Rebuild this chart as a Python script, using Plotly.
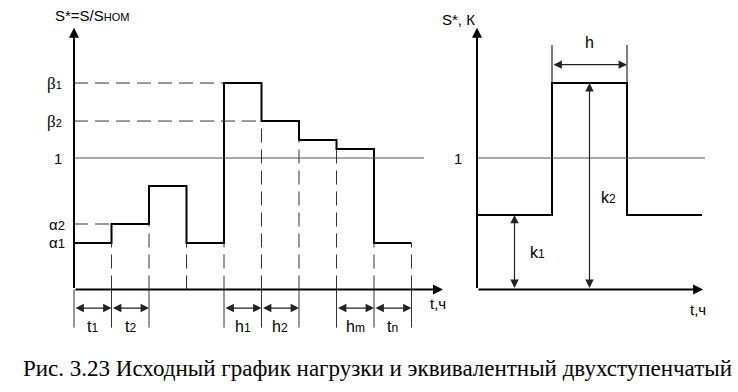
import plotly.graph_objects as go
import numpy as np

# ---------------- data ----------------
# left chart: original load graph (S* = S/Sном), one value per interval
left_values = [0.354, 0.498, 0.787, 0.354, 1.570, 1.281, 1.137, 1.068, 0.354]
left_durations = [1, 1, 1, 1, 1, 1, 1, 1, 1]
left_interval_labels = ["t1", "t2", "", "", "h1", "h2", "", "hm", "tn"]
# level labels on the y axis: (label, index of the step that has that level)
level_labels = ["α1", "α2", "β1", "β2"]
level_steps = [0, 1, 4, 5]

# right chart: equivalent two-step graph
right_values = [0.567, 1.570, 0.567]
right_durations = [2, 2, 2]
right_labels = ["k1", "k2"]

caption = "Рис. 3.23 Исходный график нагрузки и эквивалентный двухступенчатый"

# ---------------- helpers ----------------
W, H = 738, 392
PX_X = 37.5          # pixels per time unit
PX_Y = 131.5         # pixels per S* unit
Y0 = 289.5           # pixel row of S* = 0
LX0, RX0 = 74, 477   # pixel columns of the two y axes

xr_left = [-LX0 / PX_X, (W - LX0) / PX_X]
xr_right = [-RX0 / PX_X, (W - RX0) / PX_X]
yr = [(Y0 - H) / PX_Y, Y0 / PX_Y]

FONT = "Liberation Sans, Arial, sans-serif"
shapes, annos = [], []

def lab(t, small=12):
    if len(t) == 2:
        return f"{t[0]}<span style='font-size:{small}px'>{t[1]}</span>"
    return t

def line(xref, x0, y0, x1, y1, color="black", width=1, dash="solid"):
    shapes.append(dict(type="line", xref=xref, yref="y", x0=x0, y0=y0, x1=x1, y1=y1,
                       line=dict(color=color, width=width, dash=dash), layer="above"))

def arrow(xref, x0, y0, x1, y1, both=False, width=1.2, size=1.0, color="black"):
    annos.append(dict(xref=xref, yref="y", axref=xref, ayref="y", x=x1, y=y1, ax=x0, ay=y0,
                      text="", showarrow=True, arrowhead=2, arrowsize=size, arrowwidth=width,
                      arrowcolor=color, arrowside="end+start" if both else "end", standoff=0,
                      startstandoff=0))

def text(xref, x, y, t, size=15, family=FONT, xanchor="center"):
    annos.append(dict(xref=xref, yref="y", x=x, y=y, text=t, showarrow=False,
                      font=dict(size=size, family=family, color="black"), xanchor=xanchor,
                      yanchor="middle"))

DASH = "14px,7px"
EXT = -0.29       # bottom of extension lines below the time axis
DIM = -0.141      # dimension-arrow row
LBL = -0.285      # interval label row

fig = go.Figure()

# ---------------- left chart ----------------
edges = np.concatenate([[0], np.cumsum(left_durations)])
n = len(left_values)
tmax = edges[-1]

# reference line at 1
line("x", 0, 1, tmax + 0.33, 1, color="#555", width=1)
# dashed level lines
for name, idx in zip(level_labels, level_steps):
    v = left_values[idx]
    if edges[idx] > 0:
        line("x", 0, v, edges[idx], v, color="#333", width=1, dash=DASH)
    if name[0] == "β":
        t = (f"<span style='font-family:Liberation Serif;font-size:17px'>β</span>"
             f"<span style='font-size:11px'>{name[1]}</span>")
        text("x", -0.52, v, t)
    else:
        text("x", -0.45, v, lab(name, 13))
text("x", -0.43, 1, "1", size=15)

# dashed verticals from axis up to the lower neighbouring step
for i in range(1, n + 1):
    lo = left_values[i - 1] if i == n else min(left_values[i - 1], left_values[i])
    line("x", edges[i], 0, edges[i], lo, color="#333", width=1, dash=DASH)

# step line
fig.add_trace(go.Scatter(x=list(edges), y=left_values + [left_values[-1]], mode="lines",
                         line=dict(color="black", width=2, shape="hv"), xaxis="x", yaxis="y",
                         hoverinfo="skip", showlegend=False))

# extension lines, dimension arrows and labels under the time axis
ext_edges = set()
for i, name in enumerate(left_interval_labels):
    if name:
        ext_edges.update([i, i + 1])
        arrow("x", edges[i], DIM, edges[i + 1], DIM, both=True, width=1.2, size=1.4, color="#222")
        text("x", (edges[i] + edges[i + 1]) / 2, LBL, lab(name, 12), size=16)
for e in sorted(ext_edges):
    line("x", edges[e], 0, edges[e], EXT, color="#333", width=1)

# axes
arrow("x", 0, 0, 0, 1.99, width=2, size=1.0)
arrow("x", 0, 0, tmax + 0.84, 0, width=2, size=1.0)
text("x", 0.49, 2.08, "S*=S/S<span style='font-size:11px'>НОМ</span>", size=15)
text("x", 9.7, -0.11, "t,ч", size=15)

# ---------------- right chart ----------------
redges = np.concatenate([[0], np.cumsum(right_durations)])
rmax = redges[-1]
line("x2", 0, 1, rmax + 0.08, 1, color="#555", width=1)
text("x2", -0.5, 1, "1", size=15)

fig.add_trace(go.Scatter(x=list(redges), y=right_values + [right_values[-1]], mode="lines",
                         line=dict(color="black", width=2, shape="hv"), xaxis="x2", yaxis="y",
                         hoverinfo="skip", showlegend=False))

# k1, k2 dimension arrows
k1x = (redges[0] + redges[1]) / 2
k2x = (redges[1] + redges[2]) / 2
arrow("x2", k1x, 0, k1x, right_values[0], both=True, width=1.2, size=1.4, color="#222")
arrow("x2", k2x, 0, k2x, right_values[1], both=True, width=1.2, size=1.4, color="#222")
text("x2", k1x + 0.6, 0.285, lab(right_labels[0], 12), size=16)
text("x2", k2x + 0.5, 0.696, lab(right_labels[1], 12), size=16)

# h dimension
hy = right_values[1] + 0.14
line("x2", redges[1], right_values[1], redges[1], right_values[1] + 0.29, width=1)
line("x2", redges[2], right_values[1], redges[2], right_values[1] + 0.29, width=1)
arrow("x2", redges[1], hy, redges[2], hy, both=True, width=1.2, size=1.4, color="#222")
text("x2", k2x, right_values[1] + 0.31, "h", size=16)

# axes
arrow("x2", 0, 0, 0, 1.99, width=2, size=1.0)
arrow("x2", 0, 0, rmax + 0.03, 0, width=2, size=1.0)
text("x2", -0.5, 2.05, "S*, К", size=15)
text("x2", 5.88, -0.15, "t,ч", size=15)

# caption
annos.append(dict(xref="paper", yref="paper", x=377.5 / W, y=1 - 368 / H, text=caption,
                  showarrow=False, font=dict(size=23, family="Liberation Serif, Times New Roman, serif",
                                             color="black"), xanchor="center", yanchor="middle"))

ax_common = dict(showgrid=False, zeroline=False, showticklabels=False, showline=False,
                 ticks="", fixedrange=True)
fig.update_layout(
    width=W, height=H, margin=dict(l=0, r=0, t=0, b=0),
    paper_bgcolor="white", plot_bgcolor="white", showlegend=False,
    xaxis=dict(range=xr_left, domain=[0, 1], **ax_common),
    xaxis2=dict(range=xr_right, overlaying="x", anchor="y", **ax_common),
    yaxis=dict(range=yr, domain=[0, 1], **ax_common),
    shapes=shapes, annotations=annos,
)
fig.write_html("out.html", config={"displayModeBar": False},
               post_script="document.body.style.margin='0';document.body.style.overflow='hidden';")
